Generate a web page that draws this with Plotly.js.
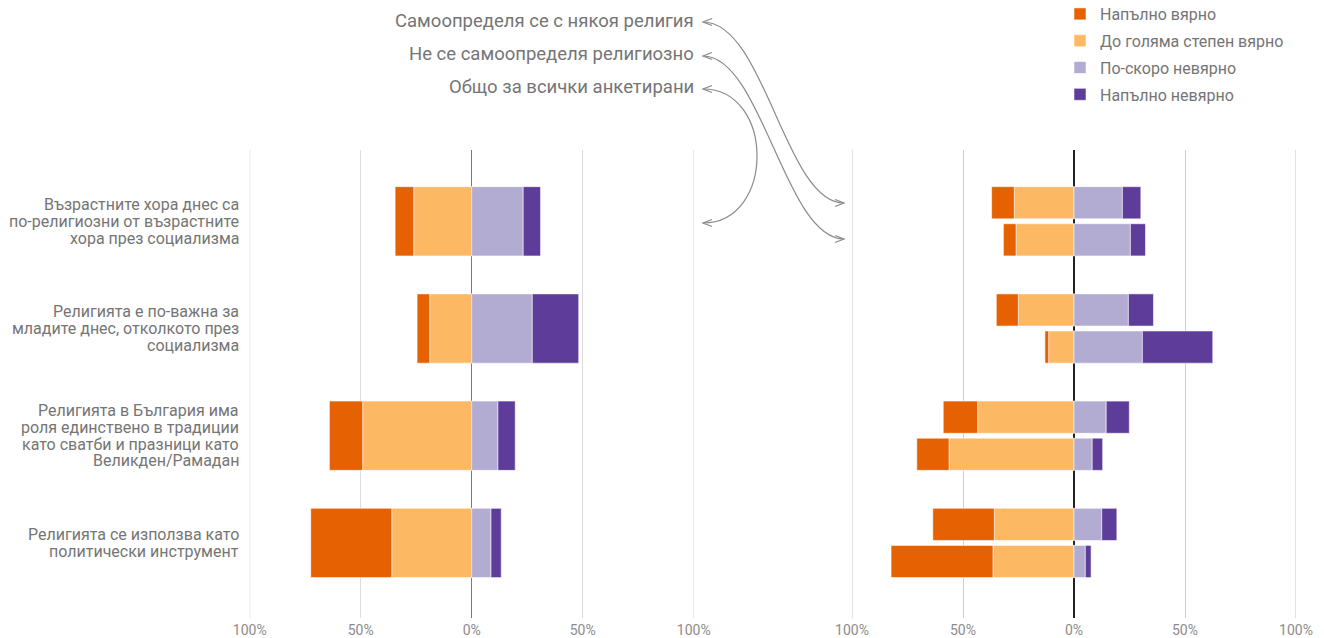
<!DOCTYPE html>
<html>
<head>
<meta charset="utf-8">
<script src="https://cdn.plot.ly/plotly-3.0.1.min.js"></script>
<style>html,body{margin:0;padding:0;background:#fff;}#chart{width:1324px;height:638px;}</style>
</head>
<body>
<div id="chart"></div>
<script>
// ---- data ----
const categories = [
  "Възрастните хора днес са\nпо-религиозни от възрастните\nхора през социализма",
  "Религията е по-важна за\nмладите днес, отколкото през\nсоциализма",
  "Религията в България има\nроля единствено в традиции\nкато сватби и празници като\nВеликден/Рамадан",
  "Религията се използва като\nполитически инструмент"
];
const seriesNames = ["Напълно вярно", "До голяма степен вярно", "По-скоро невярно", "Напълно невярно"];
const groupLabels = ["Самоопределя се с някоя религия", "Не се самоопределя религиозно", "Общо за всички анкетирани"];
const tickVals = [-100, -50, 0, 50, 100];
const tickText = ["100%", "50%", "0%", "50%", "100%"];

// Overall (all respondents), percent
const fullyTrueAll   = [8.4, 5.7, 15.0, 36.5];
const mostlyTrueAll  = [26.1, 18.9, 49.1, 36.0];
const ratherFalseAll = [23.2, 27.3, 11.8, 8.7];
const fullyFalseAll  = [7.8, 20.9, 7.8, 4.6];
// Self-identifies with a religion
const fullyTrueRel   = [10.2, 9.9, 15.5, 27.7];
const mostlyTrueRel  = [26.9, 25.1, 43.4, 35.9];
const ratherFalseRel = [21.8, 24.5, 14.5, 12.5];
const fullyFalseRel  = [8.3, 11.3, 10.4, 6.8];
// Does not self-identify religiously
const fullyTrueNon   = [5.7, 1.7, 14.5, 45.9];
const mostlyTrueNon  = [26.1, 11.4, 56.3, 36.5];
const ratherFalseNon = [25.4, 30.8, 8.2, 5.1];
const fullyFalseNon  = [6.8, 31.7, 4.7, 2.6];

const colors = ["#e66101", "#fdb863", "#b2abd2", "#5e3c99"];

// ---- layout helpers (pixel -> paper) ----
const W = 1324, H = 638;
const X = px => px / W;
const Y = py => 1 - py / H;

const idx = categories.map((c, i) => i);
const OFF = 0.173;
const posRight = idx.map(i => i - OFF).concat(idx.map(i => i + OFF));

const neg = a => a.map(v => -v);
const seriesAll = [neg(fullyTrueAll), neg(mostlyTrueAll), ratherFalseAll, fullyFalseAll];
const seriesRight = [
  neg(fullyTrueRel).concat(neg(fullyTrueNon)),
  neg(mostlyTrueRel).concat(neg(mostlyTrueNon)),
  ratherFalseRel.concat(ratherFalseNon),
  fullyFalseRel.concat(fullyFalseNon)
];

// stacking order from zero outward: mostlyTrue, fullyTrue, ratherFalse, fullyFalse
const order = [1, 0, 2, 3];
const traces = [];
order.forEach(s => {
  traces.push({
    type: 'bar', orientation: 'h', name: seriesNames[s], legendgroup: 'g' + s, legendrank: s + 1,
    x: seriesAll[s], y: idx, width: 0.646, xaxis: 'x', yaxis: 'y',
    marker: {color: colors[s], line: {color: 'rgba(255,255,255,0.55)', width: 1}},
    hoverinfo: 'skip', showlegend: true
  });
  traces.push({
    type: 'bar', orientation: 'h', name: seriesNames[s], legendgroup: 'g' + s, legendrank: s + 1,
    x: seriesRight[s], y: posRight, width: 0.30, xaxis: 'x2', yaxis: 'y2',
    marker: {color: colors[s], line: {color: 'rgba(255,255,255,0.55)', width: 1}},
    hoverinfo: 'skip', showlegend: false
  });
});

const yTop = 150, yBot = 618;
const yRange = [3.70, -0.665];
const fontFam = 'Roboto, "Open Sans", sans-serif';
const textGray = '#757575';

const xBase = {
  range: [-100, 100], tickmode: 'array', tickvals: tickVals, ticktext: tickText,
  showgrid: true, gridwidth: 1, zeroline: true, zerolinewidth: 1.5,
  showline: false, ticks: '', fixedrange: true, ticklabelstandoff: 2,
  tickfont: {family: fontFam, size: 14, color: '#8c8c8c'}
};

const annotations = [];
categories.forEach((c, i) => {
  const lines = c.split('\n');
  const n = lines.length;
  lines.forEach((t, k) => {
    annotations.push({
      xref: 'paper', yref: 'y', x: X(241), y: i, xanchor: 'right', yanchor: 'middle',
      yshift: -(k - (n - 1) / 2) * 16.7, text: t, showarrow: false,
      font: {family: fontFam, size: 16, color: textGray}
    });
  });
});
const glY = [21.5, 54, 87];
groupLabels.forEach((t, i) => {
  annotations.push({
    xref: 'paper', yref: 'paper', x: X(696), y: Y(glY[i]), xanchor: 'right', yanchor: 'middle',
    text: t, showarrow: false, font: {family: fontFam, size: 18.5, color: textGray}
  });
});

// curved connectors
const P = (x, y) => X(x) + ',' + Y(y);
const curve = (a, c1, c2, b) => 'M' + P(a[0], a[1]) + ' C' + P(c1[0], c1[1]) + ' ' + P(c2[0], c2[1]) + ' ' + P(b[0], b[1]);
const head = (tip, dir) => { // dir: -1 points left, +1 points right
  const bx = tip[0] - dir * 9;
  return 'M' + P(bx, tip[1] - 3.5) + ' L' + P(tip[0], tip[1]) + ' L' + P(bx, tip[1] + 3.5);
};
const lineStyle = {color: '#8a8a8a', width: 1.2};
const shapes = [];
const curves = [
  {a: [703, 22], c1: [765, 22], c2: [785, 203], b: [844, 203], da: -1, db: 1},
  {a: [703, 56], c1: [762, 56], c2: [785, 239], b: [844, 239], da: -1, db: 1},
  {a: [703, 89], c1: [775, 89], c2: [775, 223], b: [703, 223], da: -1, db: -1}
];
curves.forEach(c => {
  shapes.push({type: 'path', xref: 'paper', yref: 'paper', path: curve(c.a, c.c1, c.c2, c.b), line: lineStyle});
  shapes.push({type: 'path', xref: 'paper', yref: 'paper', path: head(c.a, c.da), line: lineStyle});
  shapes.push({type: 'path', xref: 'paper', yref: 'paper', path: head(c.b, c.db), line: lineStyle});
});
// edge gridlines at ±100% (Plotly omits gridlines on the range boundary)
[['x', '#dcdcdc'], ['x2', '#cfcfcf']].forEach(([ax, col]) => {
  [tickVals[0], tickVals[tickVals.length - 1]].forEach(v => {
    shapes.push({type: 'line', xref: ax, yref: 'paper', x0: v, x1: v, y0: Y(yBot), y1: Y(yTop),
      line: {color: col, width: 1.2}, layer: 'below'});
  });
});

const layout = {
  width: W, height: H,
  margin: {l: 0, r: 0, t: 0, b: 0, pad: 0, autoexpand: false},
  paper_bgcolor: '#fff', plot_bgcolor: '#fff',
  barmode: 'relative',
  font: {family: fontFam, color: textGray},
  xaxis: Object.assign({}, xBase, {domain: [X(249.7), X(693.7)], anchor: 'y', gridcolor: '#dcdcdc', zerolinecolor: '#7a7a7a'}),
  xaxis2: Object.assign({}, xBase, {domain: [X(852), X(1296)], anchor: 'y2', gridcolor: '#cfcfcf', zerolinecolor: '#222'}),
  yaxis: {domain: [Y(yBot), Y(yTop)], range: yRange, anchor: 'x', showgrid: false, zeroline: false, showticklabels: false, ticks: '', fixedrange: true},
  yaxis2: {domain: [Y(yBot), Y(yTop)], range: yRange, anchor: 'x2', showgrid: false, zeroline: false, showticklabels: false, ticks: '', fixedrange: true},
  showlegend: true,
  legend: {
    x: X(1060), y: Y(-3), xanchor: 'left', yanchor: 'top', orientation: 'v',
    traceorder: 'grouped', tracegroupgap: 3, bgcolor: 'rgba(0,0,0,0)',
    font: {family: fontFam, size: 16, color: textGray}
  },
  annotations: annotations,
  shapes: shapes
};

Plotly.newPlot('chart', traces, layout, {displayModeBar: false, staticPlot: true});
</script>
</body>
</html>
